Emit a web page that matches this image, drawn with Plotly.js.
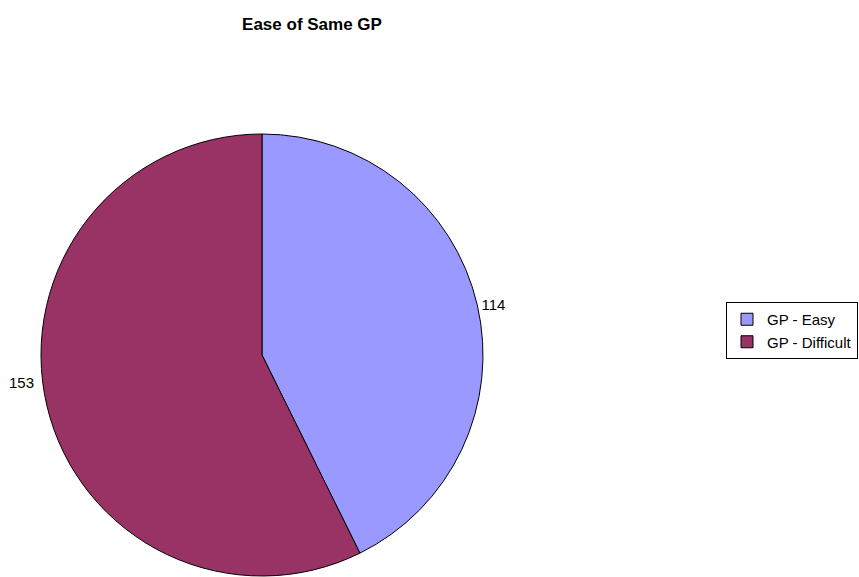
<!DOCTYPE html>
<html>
<head>
<meta charset="utf-8">
<script src="https://cdn.plot.ly/plotly-3.0.1.min.js"></script>
<style>
  html, body { margin: 0; padding: 0; background: #fff; }
  #chart { width: 859px; height: 577px; }
</style>
</head>
<body>
<div id="chart"></div>
<script>
// Survey responses: how easy it is to see the same GP
const categories = ["GP - Easy", "GP - Difficult"];
const responses = [114, 153];
const sliceColors = ["#9999FF", "#993366"];

const W = 859, H = 577;
const FONT = "Liberation Sans, Arial, sans-serif";

const trace = {
  type: "pie",
  labels: categories,
  values: responses,
  sort: false,
  direction: "clockwise",
  rotation: 0,
  marker: { colors: sliceColors, line: { color: "#000000", width: 1 } },
  textinfo: "value",
  // the larger slice gets its value label as an annotation, set a little higher
  textposition: ["outside", "none"],
  outsidetextfont: { family: FONT, size: 15, color: "#000" },
  hoverinfo: "label+value+percent",
  domain: { x: [41 / W, 483 / W], y: [1 / H, 443 / H] },
  automargin: false
};

const layout = {
  width: W,
  height: H,
  margin: { l: 0, r: 0, t: 0, b: 0 },
  paper_bgcolor: "#ffffff",
  font: { family: FONT, size: 15, color: "#000" },
  title: {
    text: "<b>Ease of Same GP</b>",
    font: { family: FONT, size: 17, color: "#000" },
    xref: "paper", x: 312 / W, xanchor: "center",
    yref: "container", y: 1 - 24 / H, yanchor: "middle"
  },
  annotations: [{
    text: String(responses[1]),
    xref: "paper", yref: "paper",
    x: 36 / W, xanchor: "right",
    y: 1 - 382 / H, yanchor: "middle",
    showarrow: false,
    font: { family: FONT, size: 15, color: "#000" }
  }],
  showlegend: true,
  legend: {
    x: 726 / W, xanchor: "left",
    y: 1 - 302 / H, yanchor: "top",
    bordercolor: "#000", borderwidth: 1,
    bgcolor: "#fff",
    font: { family: FONT, size: 15, color: "#000" },
    itemwidth: 30,
    tracegroupgap: 0
  }
};

Plotly.newPlot("chart", [trace], layout, { displayModeBar: false, staticPlot: true });
</script>
</body>
</html>
